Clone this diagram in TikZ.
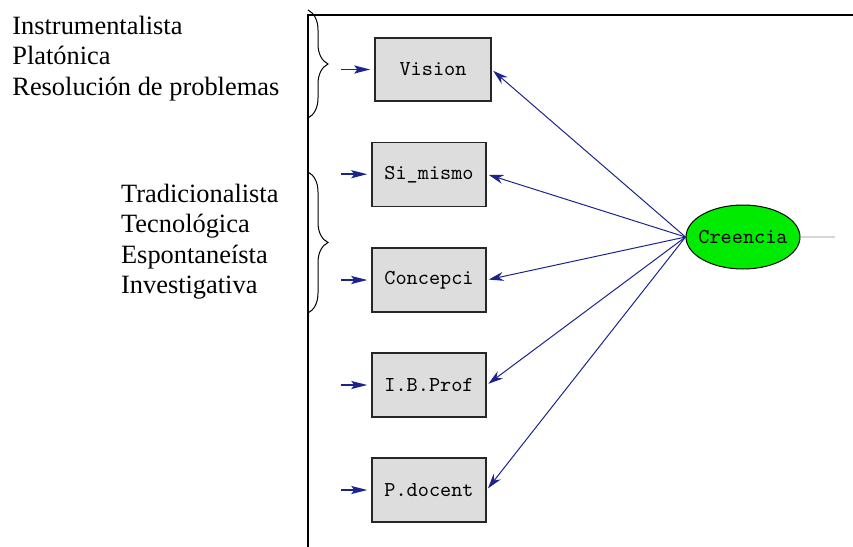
\documentclass[tikz,border=0pt]{standalone}
\usepackage{fontspec}
\usepackage{xcolor}
\usepackage{tikz}
\usetikzlibrary{arrows.meta,decorations.pathreplacing,shapes.geometric}
\setmainfont{Liberation Serif}
\definecolor{lisrelnavy}{RGB}{28, 36, 140}
\definecolor{boxgray}{RGB}{221, 221, 221}
\definecolor{latentgreen}{RGB}{0, 235, 0}
\definecolor{paleline}{RGB}{215, 215, 215}

\begin{document}
\begin{tikzpicture}[x = 0.5pt, y = -0.5pt,
	obs/.style = {rectangle, draw = black!85, line width = 0.7pt, fill = boxgray, minimum width = 57pt, minimum height = 32pt, inner sep = 0pt, font = \ttfamily\fontsize{10.6}{12}\selectfont},
	lat/.style = {ellipse, draw = black, line width = 0.5pt, fill = latentgreen, minimum width = 57pt, minimum height = 32pt, inner xsep = -2.4pt, inner ysep = 0pt, font = \ttfamily\fontsize{10.6}{12}\selectfont},
	load/.style = {draw = lisrelnavy, line width = 0.5pt, -{Stealth[length = 7.5pt, width = 4.5pt]}, shorten > = 1pt},
	err/.style = {draw = lisrelnavy, line width = 0.9pt, -{Stealth[length = 8pt, width = 4pt, inset = 1.5pt]}, shorten > = 2pt},
	grupo/.style = {anchor = north west, inner sep = 0pt, align = left, font = \fontsize{13.2}{15.25}\selectfont},
	llave/.style = {decorate, decoration = {brace, amplitude = 10pt}, line width = 0.5pt}]
	\useasboundingbox (0,0) rectangle (853,547);
	\node (instr) at (12,15.3) [grupo] {Instrumentalista\\Platónica\\Resolución de problemas};
	\node (trad) at (120.7,183.7) [grupo] {Tradicionalista\\Tecnológica\\Espontaneísta\\Investigativa};
	\draw[line width = 1pt] (853,15) -- (308,15) -- (308,547);
	\draw[llave] (308,10) -- (308,118);
	\draw[llave] (308,172) -- (308,313);
	\node (vision) at (433,69.5) [obs, minimum width = 58pt, minimum height = 31.5pt] {Vision};
	\node (simismo) at (429,174.2) [obs] {Si\_mismo};
	\node (concepci) at (429,280) [obs] {Concepci};
	\node (ibprof) at (429,385) [obs] {I.B.Prof};
	\node (pdocent) at (429,490) [obs] {P.docent};
	\node (creencia) at (743,237) [lat] {Creencia};
	\coordinate (e1) at (341,69.5);
	\coordinate (e2) at (341,174.2);
	\coordinate (e3) at (341,280);
	\coordinate (e4) at (341,385);
	\coordinate (e5) at (341,490);
	\coordinate (cola) at (835,237);
	\draw (e1) edge[err] (vision);
	\draw (e2) edge[err] (simismo);
	\draw (e3) edge[err] (concepci);
	\draw (e4) edge[err] (ibprof);
	\draw (e5) edge[err] (pdocent);
	\draw (creencia.west) edge[load] (vision.east);
	\draw (creencia.west) edge[load] (simismo.east);
	\draw (creencia.west) edge[load] (concepci.east);
	\draw (creencia.west) edge[load] (ibprof.east);
	\draw (creencia.west) edge[load] (pdocent.east);
	\draw[paleline, line width = 0.6pt] (creencia) -- (cola);
\end{tikzpicture}
\end{document}
